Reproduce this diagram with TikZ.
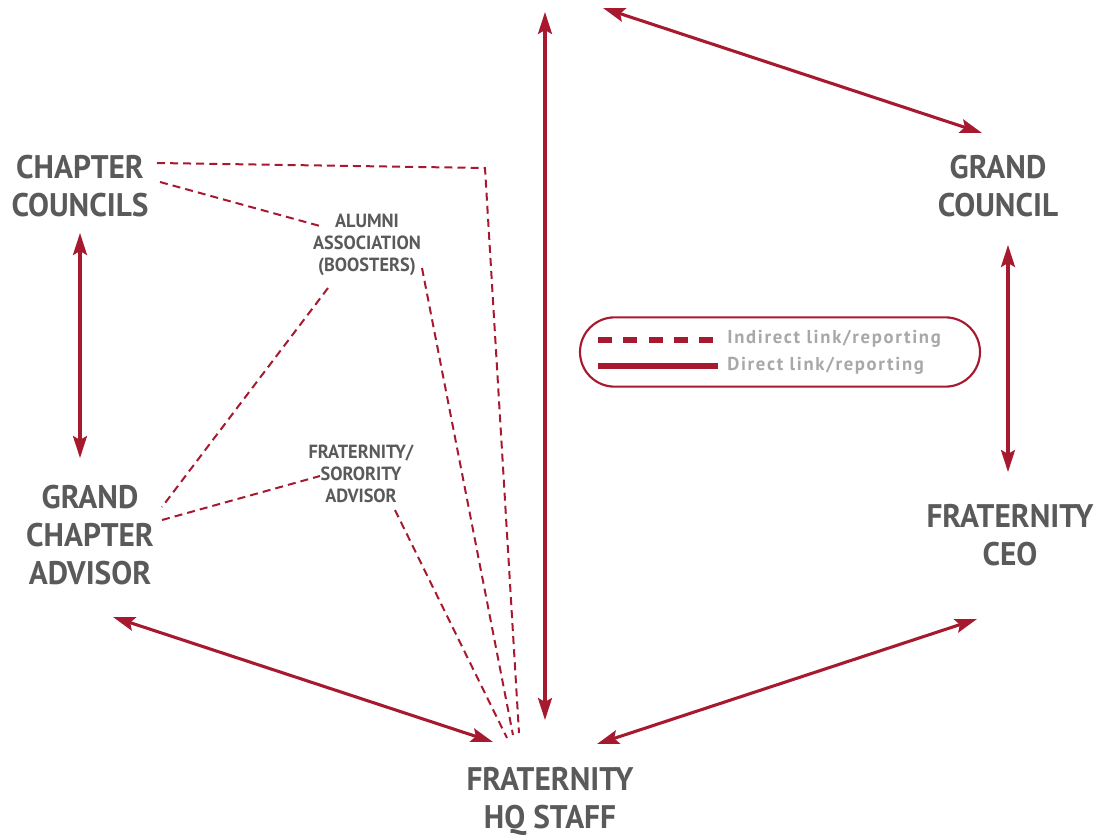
\documentclass[tikz,border=0pt]{standalone}
\usepackage{fontspec}
\setmainfont{PT Sans}
\newfontfamily\dinfont[FakeStretch=0.96]{PT Sans}
\newfontfamily\keyfont[LetterSpace=9]{PT Sans}
\usetikzlibrary{arrows.meta,calc}
\definecolor{crimson}{HTML}{A6192E}
\definecolor{labelgray}{HTML}{5A5A5A}
\definecolor{keygray}{HTML}{A8A8A8}
\tikzset{
    link/.style={crimson, line width=2.3pt, {Stealth[length=16.5pt,width=10.5pt,inset=3pt]}-{Stealth[length=16.5pt,width=10.5pt,inset=3pt]}}, % direct reporting
    loose/.style={crimson, line width=1.5pt, dash pattern=on 6pt off 3.8pt}, % indirect reporting
    bigname/.style={align=center, text=labelgray, inner sep=0pt, font=\dinfont\bfseries\fontsize{24.5}{28.5}\selectfont},
    smallname/.style={align=center, text=labelgray, inner sep=0pt, font=\dinfont\bfseries\fontsize{14.3}{16.5}\selectfont},
    keytext/.style={anchor=west, text=keygray, inner sep=0pt, font=\keyfont\bfseries\fontsize{14}{16}\selectfont},
}
\begin{document}
\begin{tikzpicture}[x=0.75pt, y=-0.75pt]
    \useasboundingbox (0,0) rectangle (1101,836);

    % Names
    \node[bigname] (cc) at (80,186) {CHAPTER\\COUNCILS};
    \node[bigname] (gc) at (998,186) {GRAND\\COUNCIL};
    \node[bigname] (gca) at (90,535) {GRAND\\CHAPTER\\ADVISOR};
    \node[bigname] (ceo) at (1010,535) {FRATERNITY\\CEO};
    \node[bigname] (hq) at (550,801) {FRATERNITY\\HQ STAFF};
    \node[smallname] (alumni) at (367,245) {ALUMNI\\ASSOCIATION\\(BOOSTERS)};
    \node[smallname] (advisor) at (361,474) {FRATERNITY/\\SORORITY\\ADVISOR};

    % Ports
    \coordinate (top-v) at (545,12);
    \coordinate (top-d) at (603,8);
    \coordinate (hq-c) at ($(hq)+(-5,-81)$);
    \coordinate (hq-l) at ($(hq)+(-57,-59)$);
    \coordinate (hq-r) at ($(hq)+(47,-57)$);
    \coordinate (hq-d1) at ($(hq)+(-43,-63)$);
    \coordinate (hq-d2) at ($(hq)+(-37,-66)$);
    \coordinate (hq-d3) at ($(hq)+(-31,-68)$);
    \coordinate (cc-s) at ($(cc)+(0,47)$);
    \coordinate (cc-e1) at ($(cc)+(77,-23)$);
    \coordinate (cc-e2) at ($(cc)+(80,-4)$);
    \coordinate (bend) at (485,168);
    \coordinate (gca-n) at ($(gca)+(-10,-77)$);
    \coordinate (gca-e1) at ($(gca)+(72,-28)$);
    \coordinate (gca-e2) at ($(gca)+(72,-15)$);
    \coordinate (gca-s) at ($(gca)+(23,82)$);
    \coordinate (gc-n) at ($(gc)+(-16,-53)$);
    \coordinate (gc-s) at ($(gc)+(10,59)$);
    \coordinate (ceo-n) at ($(ceo)+(-2,-63)$);
    \coordinate (ceo-s) at ($(ceo)+(-33,84)$);
    \coordinate (alumni-w) at ($(alumni)+(-47,-19)$);
    \coordinate (alumni-sw) at ($(alumni)+(-39,43)$);
    \coordinate (alumni-se) at ($(alumni)+(55,23)$);
    \coordinate (advisor-w) at ($(advisor)+(-41,2)$);
    \coordinate (advisor-s) at ($(advisor)+(34,36)$);

    % Direct links
    \path[link]
        (top-v) edge (hq-c)
        (top-d) edge (gc-n)
        (cc-s) edge (gca-n)
        (gc-s) edge (ceo-n)
        (gca-s) edge (hq-l)
        (ceo-s) edge (hq-r);

    % Indirect links
    \draw[loose] (cc-e1) -- (bend) -- (hq-d3);
    \draw[loose] (cc-e2) -- (alumni-w);
    \draw[loose] (alumni-se) -- (hq-d2);
    \draw[loose] (alumni-sw) -- (gca-e1);
    \draw[loose] (gca-e2) -- (advisor-w);
    \draw[loose] (advisor-s) -- (hq-d1);

    % Key
    \node[draw=crimson, line width=1.6pt, rounded corners=26pt, minimum width=300pt, minimum height=52pt] (key) at (780,352) {};
    \draw[crimson, line width=3.8pt, dash pattern=on 10.5pt off 8.5pt] ($(key)+(-182,-12)$) -- ($(key)+(-62,-12)$);
    \draw[crimson, line width=3.8pt] ($(key)+(-182,14)$) -- ($(key)+(-62,14)$);
    \node[keytext] (key-a) at ($(key)+(-53,-13)$) {Indirect link/reporting};
    \node[keytext] (key-b) at ($(key)+(-53,14)$) {Direct link/reporting};
\end{tikzpicture}
\end{document}
